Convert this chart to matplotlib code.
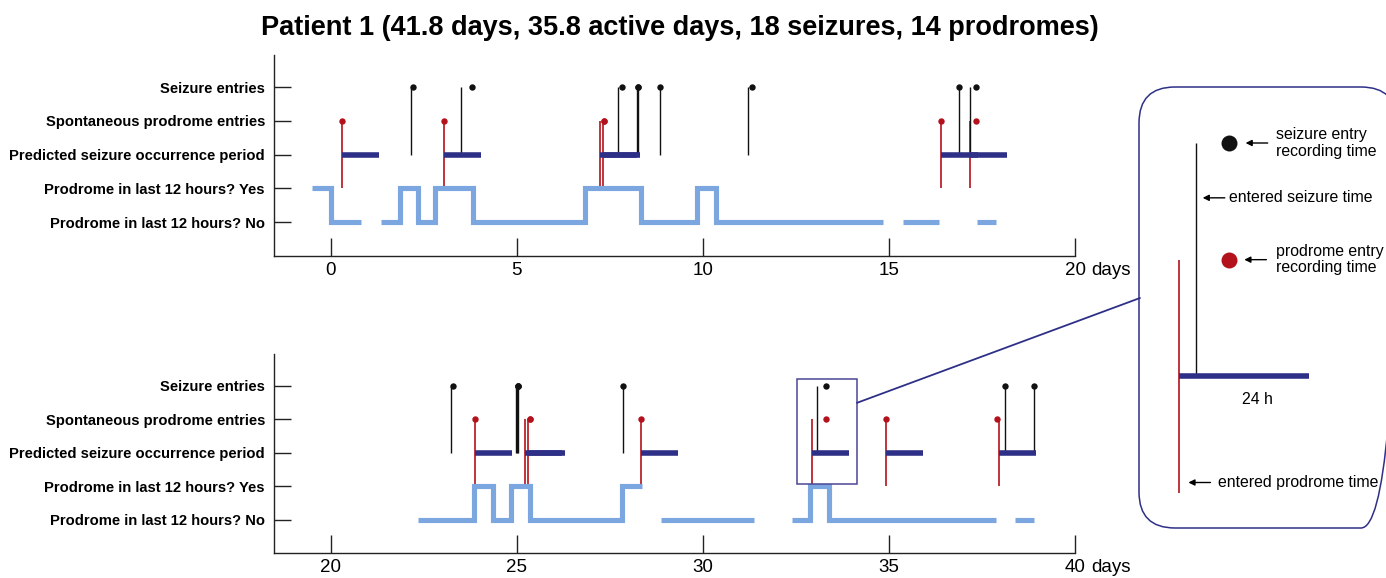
import matplotlib
matplotlib.use('Agg')
import matplotlib.pyplot as plt
from matplotlib.patches import Rectangle, FancyBboxPatch, ConnectionPatch

plt.rcParams['font.family'] = ['Liberation Sans', 'DejaVu Sans']

# ---------------- data ----------------
title = "Patient 1 (41.8 days, 35.8 active days, 18 seizures, 14 prodromes)"
row_labels = ["Prodrome in last 12 hours? No", "Prodrome in last 12 hours? Yes",
              "Predicted seizure occurrence period", "Spontaneous prodrome entries",
              "Seizure entries"]
row_levels = [0, 1, 2, 3, 4]
x_ticks_top = [0, 5, 10, 15, 20]
x_ticks_bottom = [20, 25, 30, 35, 40]

# "Prodrome in last 12 hours?" status: contiguous recorded runs (change times, days)
status_run_times = [
    [-0.52, 0.0, 0.82],
    [1.34, 1.85, 2.33, 2.81, 3.83, 6.83, 8.33, 9.85, 10.35, 14.85],
    [15.37, 16.34],
    [17.37, 17.87],
    [22.35, 23.84, 24.35, 24.84, 25.35, 27.83, 28.35],
    [28.87, 31.37],
    [32.38, 32.88, 33.39, 37.88],
    [38.40, 38.89],
]
# value for each interval of a run (0 = No, 1 = Yes)
status_run_values = [
    [1, 0],
    [0, 1, 0, 1, 0, 1, 0, 1, 0],
    [0],
    [0],
    [0, 1, 0, 1, 0, 1],
    [0],
    [0, 1, 0],
    [0],
]

prodrome_entered = [0.29, 3.04, 7.23, 7.32, 16.40, 17.18,
                    23.87, 25.22, 25.30, 28.33, 32.93, 34.92, 37.96]
prodrome_recorded = [0.29, 3.04, 7.34, 7.34, 16.40, 17.35,
                     23.87, 25.35, 25.35, 28.33, 33.31, 34.92, 37.90]
seizure_entered = [2.15, 3.49, 7.71, 8.23, 8.25, 8.84, 11.22, 16.88, 17.19,
                   23.23, 24.98, 25.00, 25.02, 27.84, 33.06, 38.11, 38.90]
seizure_recorded = [2.20, 3.78, 7.83, 8.26, 8.26, 8.84, 11.33, 16.88, 17.35,
                    23.29, 25.04, 25.04, 25.04, 27.86, 33.31, 38.11, 38.90]
prediction_window_days = 1.0   # 24 h

# zoom window shown in the inset (days, levels)
zoom_x = (32.53, 34.14)
zoom_y = (1.05, 4.2)

# ---------------- styles ----------------
C_STATUS = '#7BA6E0'
C_BAR = '#2E3087'
C_RED = '#B3121C'
C_BLACK = '#111111'
C_BOX = '#4B4796'

W, H = 1386, 578
fig = plt.figure(figsize=(W / 100, H / 100), dpi=100)


def px_axes(l, t, r, b):
    return [l / W, 1 - b / H, (r - l) / W, (b - t) / H]


def draw_events(ax, msize, status=True):
    if status:
        for times, vals in zip(status_run_times, status_run_values):
            ax.step(times, vals + [vals[-1]], where='post', color=C_STATUS,
                    lw=3.7, solid_joinstyle='miter', solid_capstyle='butt', zorder=3)
    for e in prodrome_entered:
        ax.vlines(e, 1, 3, color=C_RED, lw=1.2, zorder=2)
    for e in seizure_entered:
        ax.vlines(e, 2, 4, color=C_BLACK, lw=1.0, zorder=2)
    for e in prodrome_entered:
        ax.hlines(2, e, e + prediction_window_days, color=C_BAR, lw=4.0,
                  capstyle='butt', zorder=3)
    ax.plot(prodrome_recorded, [3] * len(prodrome_recorded), 'o', color=C_RED,
            ms=msize, mew=0, zorder=4)
    ax.plot(seizure_recorded, [4] * len(seizure_recorded), 'o', color=C_BLACK,
            ms=msize, mew=0, zorder=4)


def style_axis(ax, xlim, xticks):
    ax.set_xlim(*xlim)
    ax.set_ylim(-1.0, 4.95)
    for s in ['top', 'right']:
        ax.spines[s].set_visible(False)
    for s in ['left', 'bottom']:
        ax.spines[s].set_linewidth(1.0)
        ax.spines[s].set_color('#222222')
    ax.set_yticks(row_levels)
    ax.set_yticklabels(row_labels, fontsize=10.6, fontweight='bold')
    ax.set_xticks(xticks)
    ax.set_xticklabels([str(t) for t in xticks], fontsize=13.5)
    ax.tick_params(axis='y', direction='in', length=12, width=1.0, pad=6.5,
                   color='#222222')
    ax.tick_params(axis='x', direction='in', length=13, width=1.0, pad=4.5,
                   color='#222222')
    ax.annotate('days', xy=(1, 0), xycoords='axes fraction', xytext=(12, -4.5),
                textcoords='offset points', ha='left', va='top', fontsize=13.5)
    ax.patch.set_visible(False)


# overlay in pixel coordinates for the inset frame
ov = fig.add_axes([0, 0, 1, 1])
ov.set_xlim(0, W)
ov.set_ylim(H, 0)
ov.axis('off')
ov.add_patch(FancyBboxPatch((1139, 87), 258, 441,
                            boxstyle='round,pad=0,rounding_size=36',
                            fc='none', ec=C_BAR, lw=1.1))

ax1 = fig.add_axes(px_axes(274, 55, 1075, 256))
ax2 = fig.add_axes(px_axes(274, 354, 1075, 553))
draw_events(ax1, 4.6)
draw_events(ax2, 4.6)
style_axis(ax1, (-1.53, 20), x_ticks_top)
style_axis(ax2, (18.47, 40), x_ticks_bottom)

ax2.add_patch(Rectangle((zoom_x[0], zoom_y[0]), zoom_x[1] - zoom_x[0],
                        zoom_y[1] - zoom_y[0], fc='none', ec=C_BOX, lw=1.1,
                        zorder=5, clip_on=False))
con = ConnectionPatch(xyA=(zoom_x[1], 3.49), coordsA=ax2.transData,
                      xyB=(1140, 298), coordsB=ov.transData,
                      color=C_BAR, lw=1.3)
fig.add_artist(con)

# inset: magnified view of the zoom window
axi = fig.add_axes(px_axes(1139, 87, 1386, 528))
draw_events(axi, 11.5, status=False)
axi.set_xlim(32.62, 34.52)
axi.set_ylim(0.70, 4.48)
axi.axis('off')

arrow = dict(arrowstyle='-|>', color='black', lw=1.0, mutation_scale=9,
             shrinkA=0, shrinkB=0)
FS = 11.4
# seizure entry recording time
axi.annotate('', xy=(33.44, 4), xytext=(33.61, 4), arrowprops=arrow)
axi.text(33.67, 4.0, 'seizure entry\nrecording time', fontsize=FS, va='center',
         ha='left', linespacing=1.1)
# entered seizure time
axi.annotate('', xy=(33.11, 3.53), xytext=(33.28, 3.53), arrowprops=arrow)
axi.text(33.31, 3.53, 'entered seizure time', fontsize=FS, va='center', ha='left')
# prodrome entry recording time
axi.annotate('', xy=(33.43, 3.0), xytext=(33.60, 3.0), arrowprops=arrow)
axi.text(33.67, 3.0, 'prodrome entry\nrecording time', fontsize=FS, va='center',
         ha='left', linespacing=1.1)
# 24 h
axi.text(33.53, 1.80, '24 h', fontsize=FS, va='center', ha='center')
# entered prodrome time
axi.annotate('', xy=(33.00, 1.09), xytext=(33.17, 1.09), arrowprops=arrow)
axi.text(33.23, 1.09, 'entered prodrome time', fontsize=FS, va='center', ha='left')

fig.text(680 / W, 1 - 28 / H, title, fontsize=19.5, fontweight='bold',
         ha='center', va='center')

fig.savefig('out.png', dpi=100)
